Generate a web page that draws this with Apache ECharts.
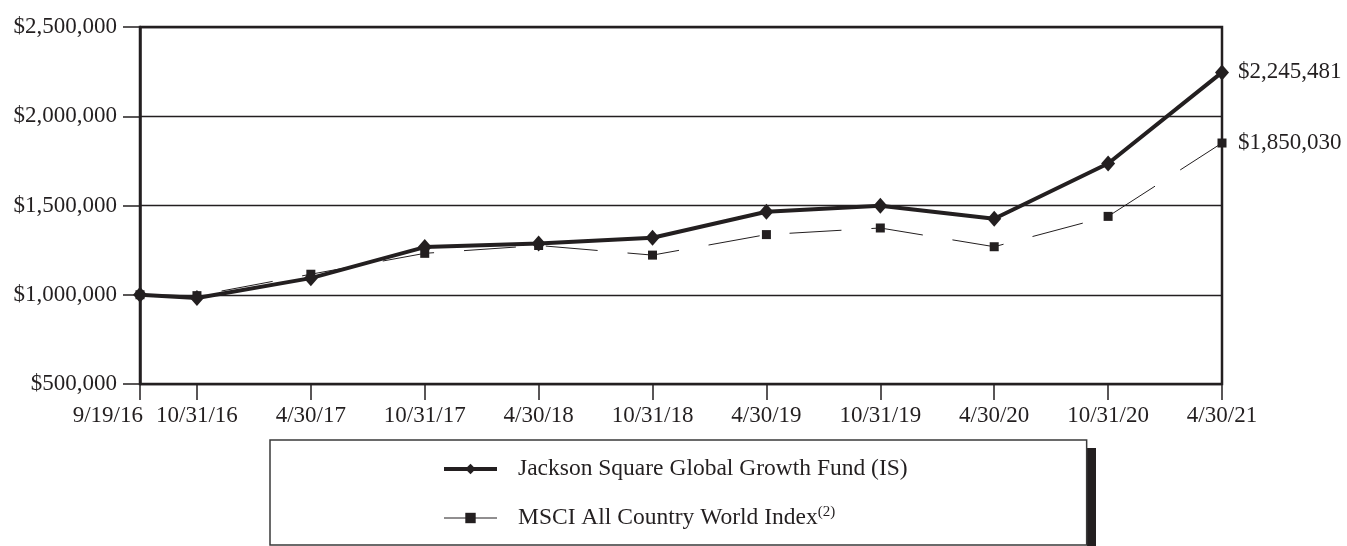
<!DOCTYPE html>
<html>
<head>
<meta charset="utf-8">
<script src="https://cdn.jsdelivr.net/npm/echarts@6/dist/echarts.min.js"></script>
<style>
html,body{margin:0;padding:0;background:#fff;}
#chart{width:1347px;height:546px;}
</style>
</head>
<body>
<div id="chart"></div>
<script>
// ---- data ----
var dateLabels = ['9/19/16','10/31/16','4/30/17','10/31/17','4/30/18','10/31/18','4/30/19','10/31/19','4/30/20','10/31/20','4/30/21'];
// period index: the first (stub) period counts as half a six-month period
var periodIndex = [0, 0.5, 1.5, 2.5, 3.5, 4.5, 5.5, 6.5, 7.5, 8.5, 9.5];
var fundName = 'Jackson Square Global Growth Fund (IS)';
var indexName = 'MSCI All Country World Index';
var fundValues = [1000000, 982000, 1093000, 1267000, 1287000, 1319000, 1465000, 1498000, 1426000, 1735000, 2245481];
var indexValues = [1000000, 995000, 1115000, 1232000, 1276000, 1222000, 1337000, 1374000, 1269000, 1439000, 1850030];
var yTicks = [500000, 1000000, 1500000, 2000000, 2500000];

var INK = '#231f20';
var FONT = '"Liberation Serif", "Times New Roman", serif';

function money(v){ return '$' + Math.round(v).toLocaleString('en-US'); }
function pairs(vals){ return vals.map(function(v,i){ return [periodIndex[i], v]; }); }
function dateFor(v){ var i = periodIndex.indexOf(v); return i >= 0 ? dateLabels[i] : ''; }

var xMin = periodIndex[0], xMax = periodIndex[periodIndex.length-1];

var chart = echarts.init(document.getElementById('chart'), null, {renderer:'canvas'});
chart.setOption({
  animation: false,
  backgroundColor: '#fff',
  textStyle: {fontFamily: FONT, color: INK},
  grid: {left: 140, right: 125, top: 27, bottom: 162, show: true, borderColor: INK, borderWidth: 2.5, backgroundColor: 'transparent'},
  xAxis: [{
    type: 'value', min: xMin, max: xMax, position: 'bottom',
    axisLine: {show: true, lineStyle: {color: INK, width: 2}},
    axisTick: {show: true, customValues: periodIndex, length: 16, lineStyle: {color: INK, width: 1.5}},
    axisLabel: {
      customValues: periodIndex.slice(1), margin: 20, fontSize: 23, fontFamily: FONT, color: INK,
      hideOverlap: false, showMinLabel: true, showMaxLabel: true, formatter: dateFor
    },
    splitLine: {show: false}
  }, {
    type: 'value', min: xMin, max: xMax, position: 'bottom', offset: 0,
    axisLine: {show: false}, axisTick: {show: false}, splitLine: {show: false},
    axisLabel: {
      customValues: periodIndex.slice(0, 1), margin: 20, fontSize: 23, fontFamily: FONT, color: INK,
      align: 'right', padding: [0, -3, 0, 0], showMinLabel: true, formatter: dateFor
    }
  }],
  yAxis: {
    type: 'value', min: yTicks[0], max: yTicks[yTicks.length-1], interval: 500000,
    axisLine: {show: true, lineStyle: {color: INK, width: 2.5}},
    axisTick: {show: true, length: 17, lineStyle: {color: INK, width: 1.5}},
    axisLabel: {margin: 23, fontSize: 23, fontFamily: FONT, color: INK, formatter: money},
    splitLine: {show: true, lineStyle: {color: INK, width: 1.3}}
  },
  legend: {
    orient: 'vertical', left: 270, top: 440,
    padding: [16, 179, 14, 172],
    itemWidth: 53, itemHeight: 13, itemGap: 23,
    selectedMode: false,
    backgroundColor: '#fff', borderColor: '#3a3a3a', borderWidth: 1.5,
    textStyle: {fontFamily: FONT, fontSize: 23.5, color: INK, lineHeight: 26, padding: [0,0,0,16],
      rich: {sup: {fontFamily: FONT, fontSize: 15, color: INK, verticalAlign: 'top', lineHeight: 26, padding: [0,0,8,0]}}},
    formatter: function(name){ return name === indexName ? name + '{sup|(2)}' : name; },
    data: [
      {name: fundName, lineStyle: {type: 'solid', width: 4, color: INK}, itemStyle: {color: INK}},
      {name: indexName, lineStyle: {type: 'solid', width: 1, color: INK}, itemStyle: {color: INK}}
    ]
  },
  graphic: [{
    type: 'rect', left: 1087, top: 448, z: 0,
    shape: {width: 9, height: 98}, style: {fill: INK}
  }],
  series: [
    {
      name: indexName, type: 'line', data: pairs(indexValues), z: 2,
      symbol: 'rect', symbolSize: 9, showAllSymbol: true,
      lineStyle: {color: INK, width: 1, type: [52, 30]},
      itemStyle: {color: INK},
      endLabel: {show: true, distance: 16, fontFamily: FONT, fontSize: 23, color: INK,
        formatter: function(p){ return money(p.value[1]); }}
    },
    {
      name: fundName, type: 'line', data: pairs(fundValues), z: 3,
      symbol: 'diamond', symbolSize: [14, 16], showAllSymbol: true,
      lineStyle: {color: INK, width: 4},
      itemStyle: {color: INK},
      endLabel: {show: true, distance: 16, fontFamily: FONT, fontSize: 23, color: INK,
        formatter: function(p){ return money(p.value[1]); }}
    }
  ]
});
</script>
</body>
</html>
